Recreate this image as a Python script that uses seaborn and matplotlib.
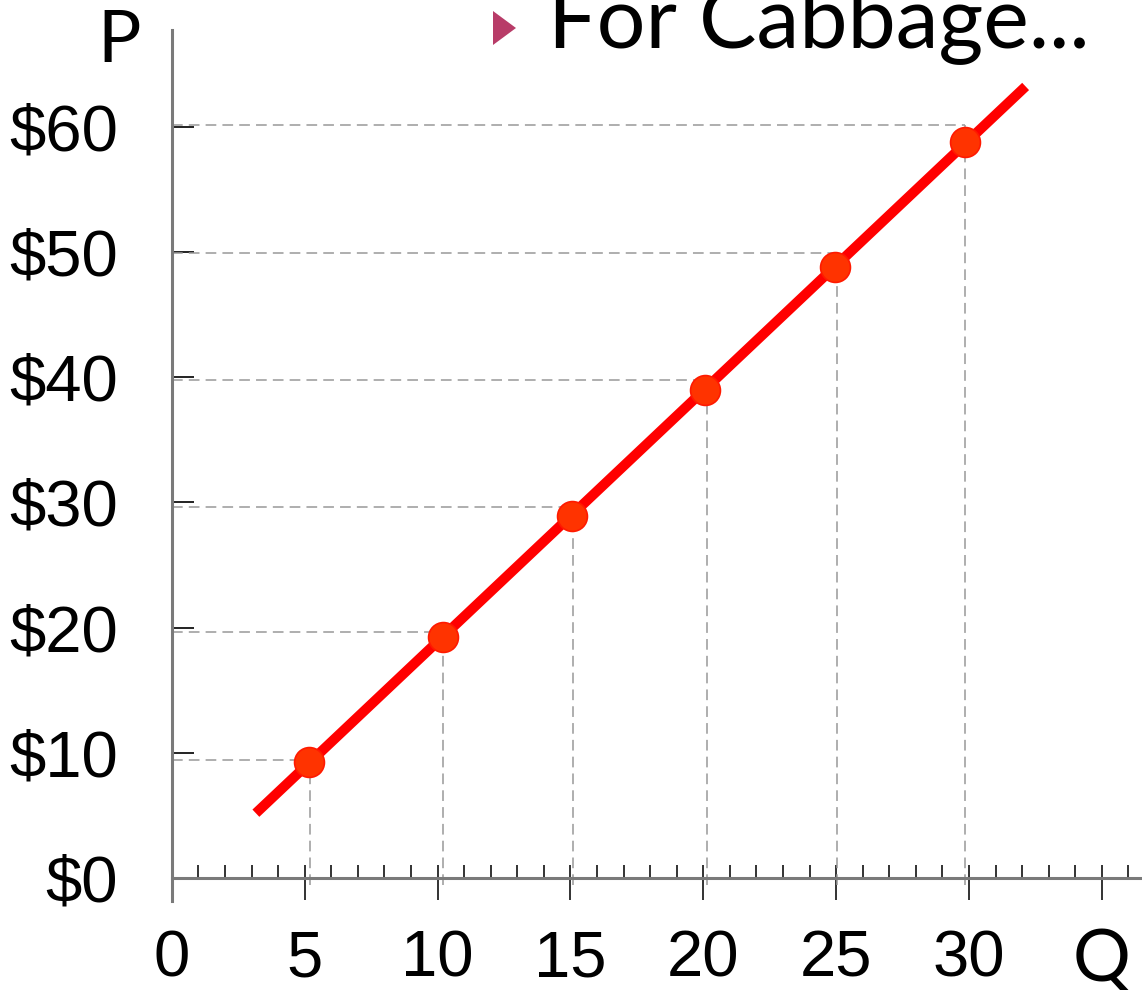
import numpy as np
import pandas as pd
import seaborn as sns
import matplotlib.pyplot as plt
from matplotlib.patches import Polygon

# values
quantity = [5.17, 10.19, 15.05, 20.06, 24.95, 29.83]
price = [9.31, 19.28, 28.9, 39.0, 48.8, 58.8]
guide_q = [5.19, 10.21, 15.08, 20.13, 25.03, 29.86]
guide_p = [9.45, 19.65, 29.6, 39.8, 49.9, 60.1]
supply_q = [3.16, 32.13]
supply_p = [5.2, 63.2]
x_ticks = [0, 5, 10, 15, 20, 25, 30, 35]
x_minor = list(range(1, 37))
y_ticks = [0, 10, 20, 30, 40, 50, 60]
y_labels = ["$0", "$10", "$20", "$30", "$40", "$50", "$60"]

pts = pd.DataFrame({"Q": quantity, "P": price})
line = pd.DataFrame({"Q": supply_q, "P": supply_p})

sns.set_style("white")
plt.rcParams["font.family"] = ["Liberation Sans", "DejaVu Sans"]

W, H = 1142, 990
fig = plt.figure(figsize=(W / 100, H / 100), dpi=100)
ax = fig.add_axes([0, 0, 1, 1])
ax.set_xlim(-6.47, 36.51)
ax.set_ylim(-8.91, 70.10)

# dashed guides
dash = (0, (7, 4))
ax.hlines(guide_p, 0, guide_q, colors="#999999", linewidth=1.1, linestyles=dash, zorder=1)
ax.vlines(guide_q, -0.5, guide_p, colors="#999999", linewidth=1.1, linestyles=dash, zorder=1)

sns.lineplot(data=line, x="Q", y="P", color="#ff0000", linewidth=7.2, ax=ax, zorder=3,
             solid_capstyle="butt")
sns.scatterplot(data=pts, x="Q", y="P", s=21.5 ** 2, color="#ff3300", edgecolor="#ff1a00",
                linewidth=1.2, ax=ax, zorder=4)

# axes
for s in ["top", "right"]:
    ax.spines[s].set_visible(False)
ax.spines["left"].set_position(("data", 0))
ax.spines["bottom"].set_position(("data", 0))
ax.spines["left"].set_bounds(-1.8, 67.7)
ax.spines["bottom"].set_bounds(0, 36.51)
for s in ["left", "bottom"]:
    ax.spines[s].set_color("#7a7a7a")
    ax.spines[s].set_linewidth(2.2)
    ax.spines[s].set_zorder(2)

ax.set_xticks(x_ticks)
ax.set_xticklabels([str(t) for t in x_ticks])
ax.set_xticks(x_minor, minor=True)
ax.xaxis.remove_overlapping_locs = False
ax.set_yticks(y_ticks)
ax.set_yticklabels(y_labels)
ax.tick_params(axis="x", which="major", bottom=True, direction="out", length=16, width=1.4,
               color="#333333", pad=21, labelsize=47, labelcolor="black")
ax.tick_params(axis="x", which="minor", bottom=True, direction="in", length=9.5, width=1.4,
               color="#333333")
ax.tick_params(axis="y", which="major", left=True, direction="in", length=16, width=1.4,
               color="#222222", pad=39, labelsize=47, labelcolor="black")
ax.set_xlabel("")
ax.set_ylabel("")
# hide the 35 label (reference shows Q there)
ax.get_xticklabels()[-1].set_visible(False)

# axis names and heading
fig.text(119 / W, 1 - 62 / H, "P", ha="center", va="baseline", fontsize=52, family="Lato",
         color="black")
fig.text(1102 / W, 1 - 981 / H, "Q", ha="center", va="baseline", fontsize=52, family="Lato",
         color="black")
fig.text(548 / W, 1 - 47 / H, "For Cabbage...", ha="left", va="baseline", fontsize=62,
         family="Lato", color="black")
fig.patches.append(Polygon([(493, H - 11), (493, H - 45), (516, H - 28)], closed=True,
                           transform=None, facecolor="#b83c68", edgecolor="none"))

fig.savefig("out.png", dpi=100)
